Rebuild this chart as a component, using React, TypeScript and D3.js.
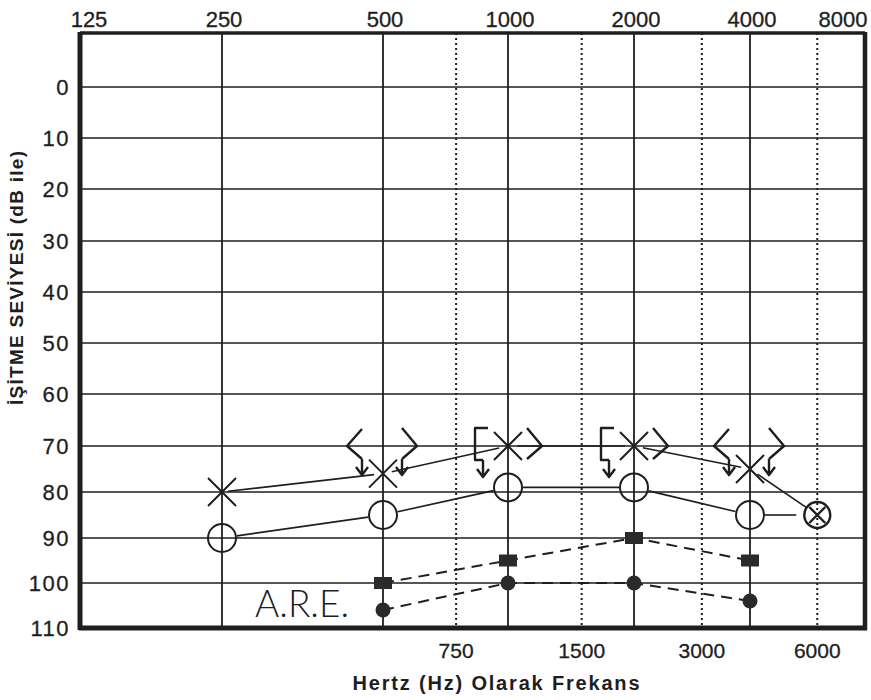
import React from "react";
import * as d3 from "d3";

// audiogram values
const topFreqs = [125, 250, 500, 1000, 2000, 4000, 8000];
const halfFreqs = [750, 1500, 3000, 6000];
const levelTicks = [0, 10, 20, 30, 40, 50, 60, 70, 80, 90, 100, 110];

const crossFreq = [250, 500, 1000, 2000, 4000, 6000];
const crossLevel = [80, 76, 70, 70, 75, 85];

const ringFreq = [250, 500, 1000, 2000, 4000, 6000];
const ringLevel = [90, 85, 79, 79, 85, 85];

const squareFreq = [500, 1000, 2000, 4000];
const squareLevel = [100, 95, 90, 95];

const dotFreq = [500, 1000, 2000, 4000];
const dotLevel = [106, 100, 100, 104];

const boneFreq = [500, 1000, 2000, 4000];
const boneLevel = [70, 70, 70, 70];
const boneLeftKind = ["<", "[", "[", "<"];
const boneRightArrow = [true, false, false, true];

const W = 871;
const H = 700;
const ink = "#1e1e1e";
const font = "'Liberation Sans', Arial, sans-serif";

// the scanned grid is not perfectly even, so both scales are piecewise
const x = d3
  .scaleLog()
  .domain(topFreqs)
  .range([80, 222, 383, 508, 634, 750, 865]);

const y = d3
  .scaleLinear()
  .domain([-10, ...levelTicks])
  .range([33, 87, 138, 189, 241, 292, 343, 394, 446, 492, 538, 583, 628]);

function gapLine(
  x1: number, y1: number, x2: number, y2: number, g1: number, g2: number
) {
  const dx = x2 - x1;
  const dy = y2 - y1;
  const len = Math.hypot(dx, dy);
  const ux = dx / len;
  const uy = dy / len;
  return {
    x1: x1 + ux * g1,
    y1: y1 + uy * g1,
    x2: x2 - ux * g2,
    y2: y2 - uy * g2,
  };
}

const arrow = (ax: number, top: number, tip: number) =>
  `M${ax},${top} L${ax},${tip} M${ax - 6},${tip - 8} L${ax},${tip} L${ax + 6},${tip - 8}`;

function boneGlyph(cx: number, cy: number, kind: string, rightArrow: boolean) {
  let left = "";
  if (kind === "<") {
    left =
      `M${cx - 21},${cy - 17} L${cx - 36},${cy} L${cx - 21},${cy + 13}` +
      arrow(cx - 21, cy + 13, cy + 29);
  } else {
    left =
      `M${cx - 20},${cy - 18} L${cx - 33},${cy - 18} L${cx - 33},${cy + 14} L${cx - 25},${cy + 14}` +
      arrow(cx - 25, cy + 14, cy + 31);
  }
  let right = `M${cx + 19},${cy - 18} L${cx + 34},${cy} L${cx + 19},${cy + 13}`;
  if (rightArrow) right += arrow(cx + 19, cy + 13, cy + 29);
  return left + " " + right;
}

// medium weight look for the labels
const labelStyle = {
  fontFamily: font,
  fill: ink,
  stroke: ink,
  strokeWidth: 0.3,
} as const;

const App: React.FC = () => {
  const gridLevels = levelTicks.filter(d => d < 110);
  const solidFreqs = topFreqs.filter(f => f > 125 && f < 8000);
  const last = crossFreq.length - 1;

  const crossSegs = crossFreq.slice(1).map((f, i) =>
    gapLine(
      x(crossFreq[i]), y(crossLevel[i]), x(f), y(crossLevel[i + 1]),
      i === 0 ? 6 : 9, i + 1 === last ? 13 : 9
    )
  );
  const ringSegs = ringFreq.slice(1).map((f, i) =>
    gapLine(
      x(ringFreq[i]), y(ringLevel[i]), x(f), y(ringLevel[i + 1]),
      15, i + 1 === last ? 21 : 15
    )
  );

  const dashed = d3
    .line<number>()
    .x((_, i) => x(squareFreq[i]))
    .y(d => y(d));
  const dashedDots = d3
    .line<number>()
    .x((_, i) => x(dotFreq[i]))
    .y(d => y(d));

  return (
    <svg
      width={W}
      height={H}
      style={{ position: "absolute", left: 0, top: 0, background: "#fff" }}
    >
      {/* horizontal grid */}
      {gridLevels.map(d => (
        <line key={"h" + d} x1={x(125)} x2={x(8000)} y1={y(d)} y2={y(d)}
          stroke={ink} strokeWidth={1.6} />
      ))}
      {/* octave lines */}
      {solidFreqs.map(f => (
        <line key={"v" + f} x1={x(f)} x2={x(f)} y1={y(-10)} y2={y(110)}
          stroke={ink} strokeWidth={1.8} />
      ))}
      {/* half-octave dotted lines */}
      {halfFreqs.map(f => (
        <line key={"d" + f} x1={x(f)} x2={x(f)} y1={y(-10)} y2={y(110)}
          stroke={ink} strokeWidth={2} strokeDasharray="2 3" />
      ))}

      {/* frame */}
      <line x1={x(125)} x2={x(8000)} y1={y(-10)} y2={y(-10)} stroke={ink} strokeWidth={3.5} />
      <line x1={x(125) - 1} x2={x(8000) + 2} y1={y(110)} y2={y(110)} stroke={ink} strokeWidth={5} />
      <line x1={x(125)} x2={x(125)} y1={y(-10) - 1} y2={y(110) + 2} stroke={ink} strokeWidth={5} />
      <line x1={x(8000)} x2={x(8000)} y1={y(-10) - 1} y2={y(110) + 2} stroke={ink} strokeWidth={4.5} />

      {/* top frequency labels */}
      {topFreqs.map(f => (
        <text key={"t" + f}
          x={f === 125 ? x(f) + 9 : f === 8000 ? x(f) - 22 : x(f) + 2}
          y={27} textAnchor="middle" fontSize={22} {...labelStyle}>
          {f}
        </text>
      ))}
      {/* bottom half-octave labels */}
      {halfFreqs.map(f => (
        <text key={"b" + f} x={x(f)} y={658} textAnchor="middle"
          fontSize={21} {...labelStyle}>
          {f}
        </text>
      ))}
      {/* level labels */}
      {levelTicks.map(d => (
        <text key={"l" + d} x={70} y={y(d) + 8} textAnchor="end"
          fontSize={22} letterSpacing={1.5} {...labelStyle}>
          {d}
        </text>
      ))}

      {/* axis titles */}
      <text x={496} y={690} textAnchor="middle" fontSize={20}
        fontWeight="bold" textLength={287} lengthAdjust="spacing" {...labelStyle}
        strokeWidth={0}>
        Hertz (Hz) Olarak Frekans
      </text>
      <text transform="translate(23,278) rotate(-90)" textAnchor="middle"
        fontSize={19} fontWeight="bold" textLength={254} lengthAdjust="spacing"
        {...labelStyle} strokeWidth={0}>
        İŞİTME SEVİYESİ (dB ile)
      </text>

      <text x={255} y={617} fontFamily="Lato, 'Liberation Sans', sans-serif"
        fontSize={37} fontWeight={300} fill={ink}>
        A.R.E.
      </text>

      {/* connecting lines */}
      {crossSegs.map((s, i) => (
        <line key={"cs" + i} {...s} stroke={ink} strokeWidth={1.6} />
      ))}
      {ringSegs.map((s, i) => (
        <line key={"rs" + i} {...s} stroke={ink} strokeWidth={1.6} />
      ))}
      <path d={dashed(squareLevel) || ""} fill="none" stroke={ink}
        strokeWidth={2} strokeDasharray="11 7" />
      <path d={dashedDots(dotLevel) || ""} fill="none" stroke={ink}
        strokeWidth={2} strokeDasharray="11 7" />

      {/* crosses */}
      {crossFreq.slice(0, last).map((f, i) => {
        const cx = x(f);
        const cy = y(crossLevel[i]);
        return (
          <path key={"x" + f}
            d={`M${cx - 14},${cy - 14}L${cx + 14},${cy + 14}M${cx - 14},${cy + 14}L${cx + 14},${cy - 14}`}
            stroke={ink} strokeWidth={2} />
        );
      })}
      {/* rings */}
      {ringFreq.slice(0, last).map((f, i) => (
        <circle key={"o" + f} cx={x(f)} cy={y(ringLevel[i])} r={14}
          fill="none" stroke={ink} strokeWidth={2} />
      ))}
      {/* combined marker at 6000 */}
      {(() => {
        const cx = x(ringFreq[last]);
        const cy = y(ringLevel[last]);
        return (
          <g>
            <circle cx={cx} cy={cy} r={13} fill="none" stroke={ink} strokeWidth={2.4} />
            <path d={`M${cx - 8},${cy - 8}L${cx + 8},${cy + 8}M${cx - 8},${cy + 8}L${cx + 8},${cy - 8}`}
              stroke={ink} strokeWidth={2.4} />
          </g>
        );
      })()}

      {/* filled squares and dots */}
      {squareFreq.map((f, i) => (
        <rect key={"s" + f} x={x(f) - 9} y={y(squareLevel[i]) - 6} width={18}
          height={12} fill="#2a2a2a" />
      ))}
      {dotFreq.map((f, i) => (
        <circle key={"c" + f} cx={x(f)} cy={y(dotLevel[i])} r={7.5} fill="#2a2a2a" />
      ))}

      {/* masked bone conduction, no response */}
      {boneFreq.map((f, i) => (
        <path key={"bn" + f}
          d={boneGlyph(x(f), y(boneLevel[i]), boneLeftKind[i], boneRightArrow[i])}
          fill="none" stroke={ink} strokeWidth={2.4} strokeLinejoin="round" />
      ))}
    </svg>
  );
};

export default App;
